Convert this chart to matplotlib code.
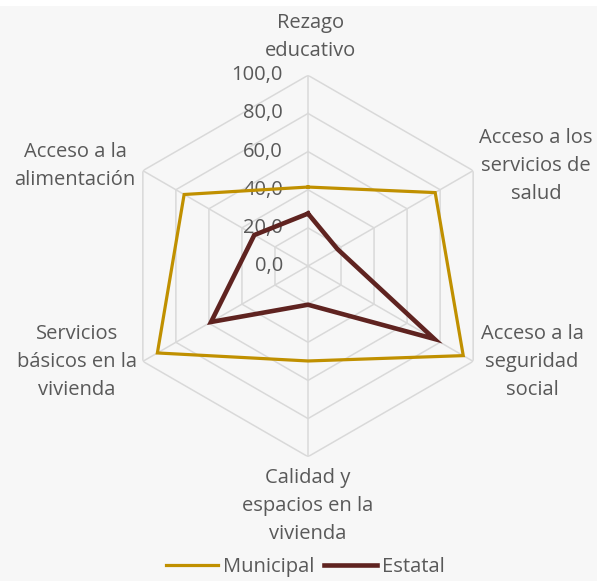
import numpy as np
import matplotlib.pyplot as plt
from matplotlib.patches import Rectangle
from matplotlib.transforms import offset_copy

plt.rcParams['font.family'] = ['Open Sans', 'DejaVu Sans']

categories = ["Rezago\neducativo", "Acceso a los\nservicios de\nsalud", "Acceso a la\nseguridad\nsocial",
              "Calidad y\nespacios en la\nvivienda", "Servicios\nbásicos en la\nvivienda", "Acceso a la\nalimentación"]
municipal = [41.4, 77.0, 94.0, 49.8, 91.2, 75.0]
estatal = [27.5, 17.8, 76.5, 20.3, 58.7, 32.5]
ticks = [0, 20, 40, 60, 80, 100]
tick_labels = ["0,0", "20,0", "40,0", "60,0", "80,0", "100,0"]

W, H = 597, 581
bg = "#f7f7f7"
txt = "#595959"
fs = 14.5

fig = plt.figure(figsize=(W / 100, H / 100), dpi=100, facecolor=bg)
fig.patches.append(Rectangle((0, 1 - 6 / H), 1, 6 / H, transform=fig.transFigure,
                             facecolor="white", edgecolor="none", zorder=0))

# center (308, 266) px, radius 190.7 px
cx, cy, R = 308, 266, 190.7
ax = fig.add_axes([(cx - R) / W, (H - cy - R) / H, 2 * R / W, 2 * R / H], projection="polar")
ax.set_facecolor("none")
ax.set_theta_zero_location("N")
ax.set_theta_direction(-1)
ax.set_ylim(0, 100)
ax.grid(False)
ax.spines["polar"].set_visible(False)
ax.set_xticks([])
ax.set_yticks([])

angles = np.deg2rad(np.arange(6) * 60)
closed = np.append(angles, angles[0])

# hexagonal grid
for t in ticks[1:]:
    ax.plot(closed, [t] * 7, color="#d9d9d9", lw=1.1, zorder=1)
for a in angles:
    ax.plot([a, a], [0, 100], color="#d9d9d9", lw=1.1, zorder=1)

ax.plot(closed, municipal + municipal[:1], color="#c09000", lw=2.3, zorder=3,
        solid_joinstyle="miter", label="Municipal")
ax.plot(closed, estatal + estatal[:1], color="#5f2320", lw=3.3, zorder=4,
        solid_joinstyle="miter", label="Estatal")

tr = offset_copy(ax.transData, fig=fig, x=-25, y=0, units="dots")
for t, lab in zip(ticks, tick_labels):
    ax.text(0, t, lab, transform=tr, ha="right", va="center", fontsize=fs, color=txt, zorder=2)

# category labels (pixel positions)
label_pos = [(311, 37), (536, 166), (532, 362), (308, 506), (77, 362), (75, 166)]
for lab, (x, y) in zip(categories, label_pos):
    fig.text(x / W, 1 - y / H, lab, ha="center", va="center", fontsize=fs, color=txt,
             linespacing=1.52)

leg = fig.legend(loc="center", bbox_to_anchor=(305 / W, 1 - 567 / H), ncol=2, frameon=False,
                 fontsize=fs, handlelength=2.6, handletextpad=0.25, columnspacing=0.5,
                 labelcolor=txt, borderpad=0.1)

fig.savefig("out.png", dpi=100, facecolor=bg)
